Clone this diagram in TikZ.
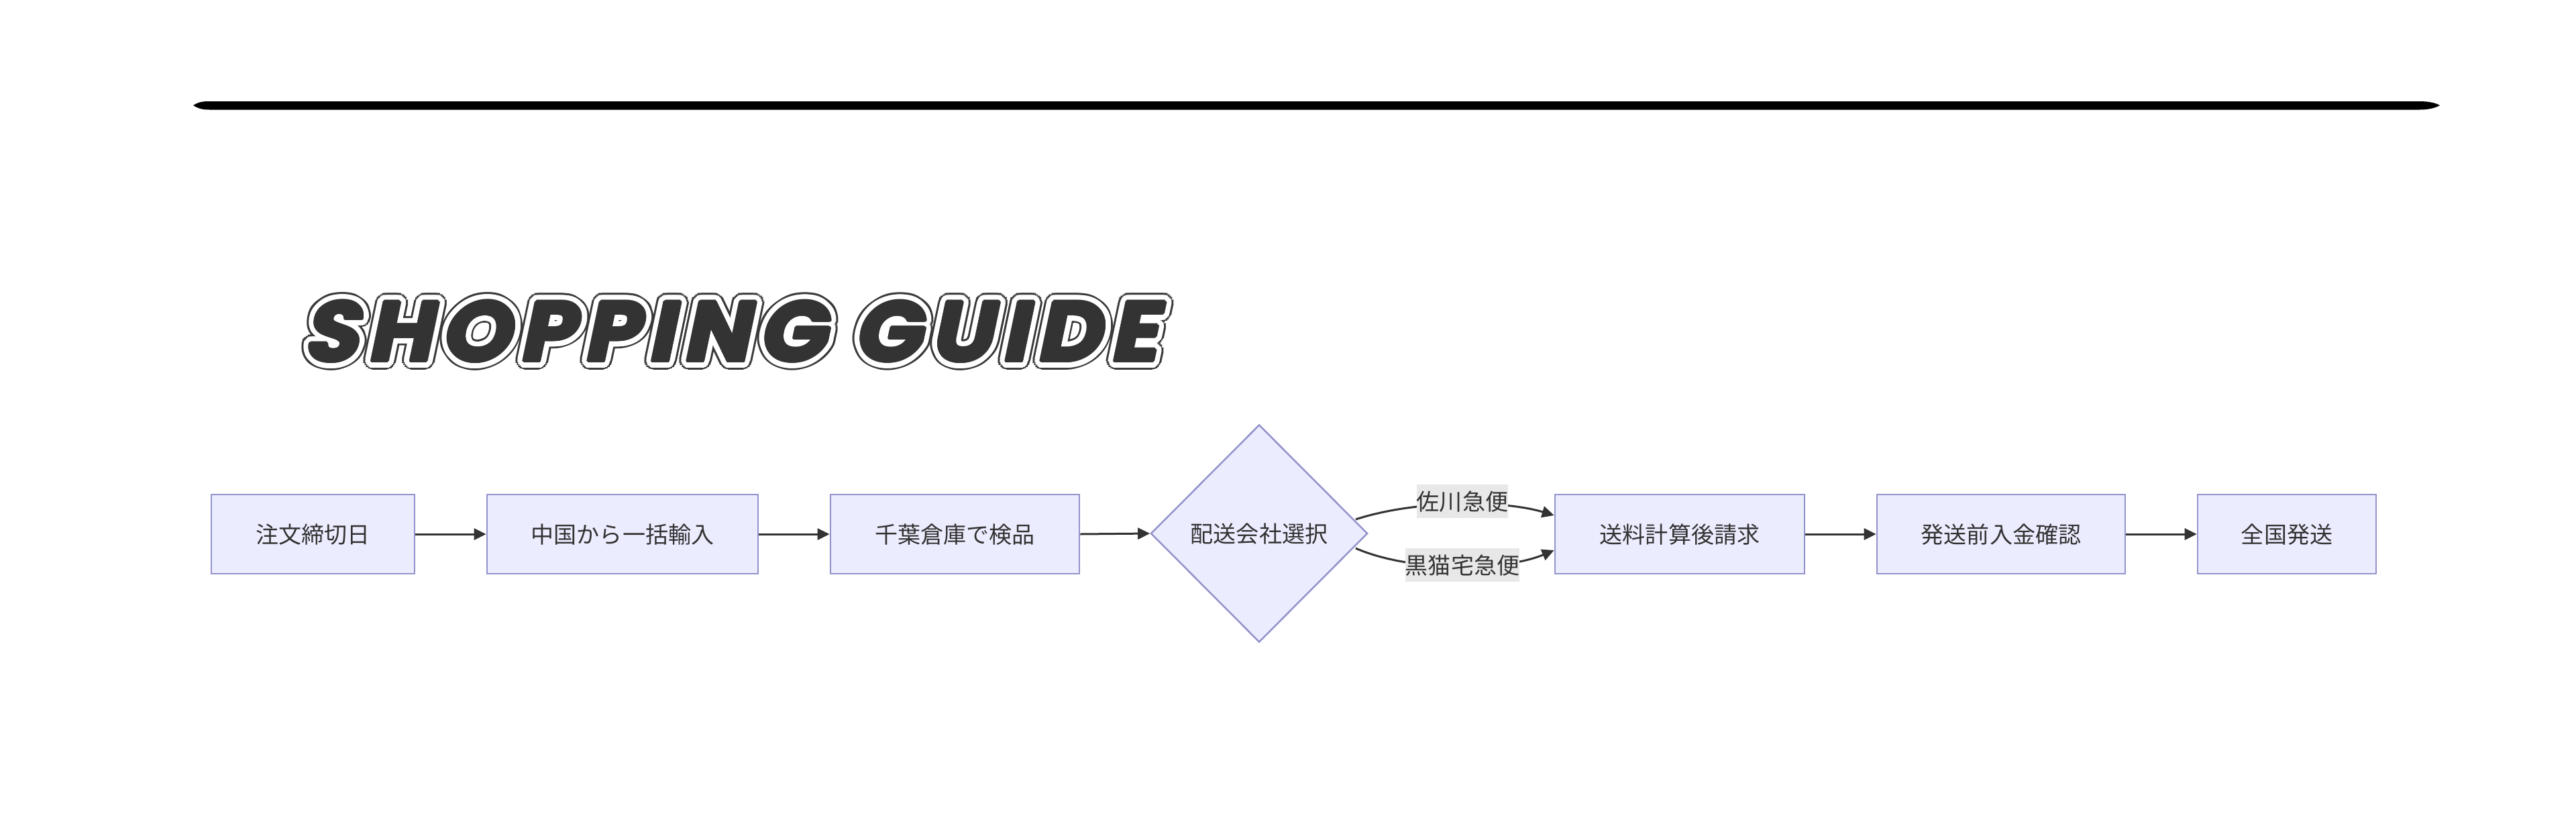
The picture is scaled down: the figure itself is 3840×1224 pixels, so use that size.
\documentclass[tikz,border=0pt]{standalone}
\usepackage{fontspec}
\usetikzlibrary{shapes.geometric,arrows.meta}
\newfontfamily\jpfont{Noto Sans CJK JP}
\newfontfamily\titlefont{Poppins}[LetterSpace=10]
\definecolor{boxfill}{HTML}{ECECFF}
\definecolor{boxline}{HTML}{9393CC}
\definecolor{ink}{HTML}{333333}
\definecolor{ringink}{HTML}{3A3A3A}
\definecolor{lblbg}{HTML}{E8E8E8}
\newcommand\jpsize{\jpfont\fontsize{9.68pt}{11.6pt}\selectfont}
\newcommand\titletext{SHOPPING GUIDE}
\tikzset{
  x=0.01cm, y=-0.01cm,
  stepbox/.style={draw=boxline, fill=boxfill, line width=0.025cm,
    minimum height=1.18cm, inner sep=0pt, text=ink, font=\jpsize,
    text height=0.88em, text depth=0.12em},
  decision/.style={diamond, aspect=1, draw=boxline, fill=boxfill,
    line width=0.025cm, minimum width=3.23cm, minimum height=3.24cm,
    inner sep=0pt, text=ink, font=\jpsize, text height=0.88em, text depth=0.12em},
  flow/.style={draw=ink, line width=0.03cm,
    -{Triangle[length=0.18cm,width=0.17cm]}},
  elabel/.style={fill=lblbg, text=ink, inner xsep=0pt, inner ysep=0.075cm,
    font=\jpsize, text height=0.88em, text depth=0.12em},
  titlestyle/.style={inner sep=0pt, font=\titlefont\bfseries\fontsize{35.8pt}{40pt}\selectfont,
    xscale=1.05, xslant=0.2, transform shape},
}
\begin{document}
\begin{tikzpicture}
\useasboundingbox (0,0) rectangle (3840,1224);
\fill[white] (0,0) rectangle (3840,1224);

% brush stroke rule
\fill[black] (288,157) .. controls (296,152) and (302,151) .. (312,151)
  -- (3607,151) .. controls (3622,151) and (3632,154) .. (3637,157)
  .. controls (3632,160) and (3622,163.5) .. (3607,163.5)
  -- (312,163.5) .. controls (302,163.5) and (296,162) .. (288,157) -- cycle;

% title with outline
\begin{scope}[shift={(1098,494)}]
  \foreach \a in {0,15,...,345}{
    \begin{scope}[shift={(\a:13)}]
      \node[titlestyle, text=ringink] at (0,0) {\titletext};
    \end{scope}}
  \foreach \r in {10,7,4}{
    \foreach \a in {0,15,...,345}{
      \begin{scope}[shift={(\a:\r)}]
        \node[titlestyle, text=white] at (0,0) {\titletext};
      \end{scope}}}
  \foreach \a in {0,30,...,330}{
    \begin{scope}[shift={(\a:2.5)}]
      \node[titlestyle, text=ink] at (0,0) {\titletext};
    \end{scope}}
  \node[titlestyle, text=ink] (title) at (0,0) {\titletext};
\end{scope}

% nodes
\node[stepbox, minimum width=3.03cm] (b1) at (466.5,796) {注文締切日};
\node[stepbox, minimum width=4.04cm] (b2) at (928,796) {中国から一括輸入};
\node[stepbox, minimum width=3.71cm] (b3) at (1423.5,796) {千葉倉庫で検品};
\node[decision] (d) at (1877,795) {配送会社選択};
\node[stepbox, minimum width=3.72cm] (b4) at (2504,796) {送料計算後請求};
\node[stepbox, minimum width=3.70cm] (b5) at (2983,796) {発送前入金確認};
\node[stepbox, minimum width=2.66cm] (b6) at (3409,796) {全国発送};

% connectors
\draw[flow] (b1.east) -- (b2.west);
\draw[flow] (b2.east) -- (b3.west);
\draw[flow] (b3.east) -- (d.west);
\draw[flow] ([shift={(-19,-21)}]d.east) .. controls (2110,745) and (2240,745) .. ([shift={(0,-28)}]b4.west);
\draw[flow] ([shift={(-19,22)}]d.east) .. controls (2100,852) and (2240,852) .. ([shift={(0,24)}]b4.west);
\draw[flow] (b4.east) -- (b5.west);
\draw[flow] (b5.east) -- (b6.west);

% edge labels
\node[elabel] (l1) at (2180,747) {佐川急便};
\node[elabel] (l2) at (2180,842) {黒猫宅急便};
\end{tikzpicture}
\end{document}
